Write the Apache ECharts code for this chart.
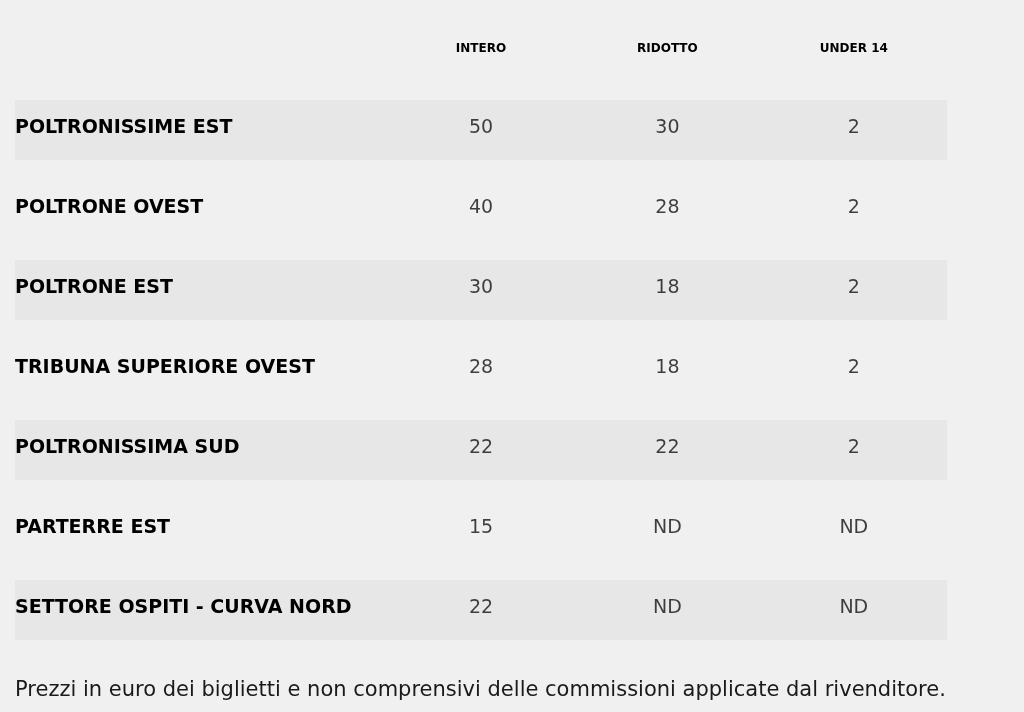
<!DOCTYPE html>
<html><head><meta charset="utf-8">
<script src="https://cdn.jsdelivr.net/npm/echarts@6/dist/echarts.min.js"></script>
<style>html,body{margin:0;padding:0;background:#f0f0f0}#c{width:1024px;height:712px}</style>
</head><body><div id="c"></div>
<script>
const columns = ['INTERO', 'RIDOTTO', 'UNDER 14'];
const rows = ['POLTRONISSIME EST', 'POLTRONE OVEST', 'POLTRONE EST', 'TRIBUNA SUPERIORE OVEST', 'POLTRONISSIMA SUD', 'PARTERRE EST', 'SETTORE OSPITI - CURVA NORD'];
const intero = ['50', '40', '30', '28', '22', '15', '22'];
const ridotto = ['30', '28', '18', '18', '22', 'ND', 'ND'];
const under14 = ['2', '2', '2', '2', '2', 'ND', 'ND'];
const footer = 'Prezzi in euro dei biglietti e non comprensivi delle commissioni applicate dal rivenditore.';

const xCats = ['_a', '_b'].concat(columns);
const valueCols = [intero, ridotto, under14];
const cells = [];
valueCols.forEach((arr, ci) => arr.forEach((v, ri) => cells.push({ value: [columns[ci], rows[ri]], txt: v })));
const bandRows = rows.filter((r, i) => i % 2 === 0).map(r => ['_a', r]);

const chart = echarts.init(document.getElementById('c'));
chart.setOption({
  backgroundColor: '#f0f0f0',
  animation: false,
  title: { text: footer, left: 15, top: 680, padding: 0, textStyle: { fontFamily: 'DejaVu Sans', fontWeight: 'normal', fontSize: 21, color: '#1a1a1a' } },
  grid: { left: 15, right: 77, top: 88, bottom: 64 },
  xAxis: {
    type: 'category', data: xCats, position: 'top',
    axisLine: { show: false }, axisTick: { show: false },
    axisLabel: { margin: 33, interval: 0, fontFamily: 'DejaVu Sans', fontWeight: 'bold', fontSize: 12, color: '#000',
      formatter: v => v.startsWith('_') ? '' : v }
  },
  yAxis: {
    type: 'category', data: rows, inverse: true, z: 10,
    axisLine: { show: false }, axisTick: { show: false },
    axisLabel: { inside: true, margin: 0, align: 'left', fontFamily: 'DejaVu Sans', fontWeight: 'bold', fontSize: 19, color: '#000' }
  },
  series: [
    {
      type: 'custom', silent: true, z: 1,
      data: bandRows,
      encode: { x: 0, y: 1 },
      renderItem: (params, api) => {
        const cs = params.coordSys;
        const y = api.coord([api.value(0), api.value(1)])[1];
        return { type: 'rect', shape: { x: cs.x, y: y - 28, width: cs.width, height: 60 }, style: { fill: '#e7e7e7' } };
      }
    },
    {
      type: 'scatter', symbolSize: 0, z: 3, silent: true,
      data: cells,
      label: { show: true, position: 'inside', formatter: p => p.data.txt, fontFamily: 'DejaVu Sans', fontSize: 19, color: '#111' }
    }
  ]
});
</script></body></html>
